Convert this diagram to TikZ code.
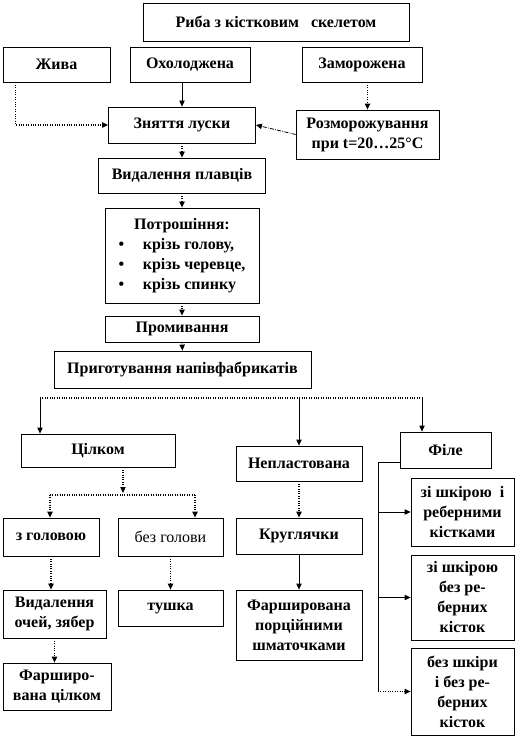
\documentclass[tikz,border=0pt]{standalone}
\usepackage{fontspec}
\setmainfont{Liberation Serif}
\usetikzlibrary{arrows.meta,positioning,calc}

\begin{document}
\begin{tikzpicture}[x=0.75pt,y=-0.75pt,>={Triangle[length=4.5pt,width=4pt]},
  box/.style={draw,line width=0.6pt,align=center,inner sep=1pt,
    font=\fontsize{12}{15}\selectfont\bfseries},
  link/.style={line width=0.6pt},
  dlink/.style={line width=0.8pt,densely dotted}]
  \useasboundingbox (0,0) rectangle (521,737);

  \node[box,minimum width=199.5pt,minimum height=28.5pt] (fish) at (276,22) {Риба з кістковим~~~скелетом};
  \node[box,minimum width=80.25pt,minimum height=26.25pt] (live) at (56.5,64.5) {Жива};
  \node[box,minimum width=90pt,minimum height=26.25pt] (chilled) at (190,64.5) {Охолоджена};
  \node[box,minimum width=90pt,minimum height=26.25pt] (frozen) at (362,64.5) {Заморожена};
  \node[box,minimum width=110.25pt,minimum height=27pt] (scale) at (182,125) {Зняття луски};
  \node[box,minimum width=107.25pt,minimum height=36.75pt] (thaw) at (367.5,134.5) {Розморожування\\при t=20…25°C};
  \node[box,minimum width=125.25pt,minimum height=26.25pt] (fins) at (182,175.5) {Видалення плавців};
  \node[box,minimum width=115.5pt,minimum height=71.25pt] (gut) at (182,255.5)
    {\begin{tabular}{@{}l@{\hspace{14pt}}l@{}}
      \multicolumn{2}{c}{Потрошіння:}\\
      • & крізь голову,\\
      • & крізь черевце,\\
      • & крізь спинку
    \end{tabular}};
  \node[box,minimum width=115.5pt,minimum height=19.5pt] (wash) at (182,329) {Промивання};
  \node[box,minimum width=192.75pt,minimum height=27.75pt] (prep) at (182.5,369.5) {Приготування напівфабрикатів};

  \node[box,minimum width=115.5pt,minimum height=24.75pt] (whole) at (98,450.5) {Цілком};
  \node[box,minimum width=94.5pt,minimum height=26.25pt] (unsliced) at (299,463.5) {Непластована};
  \node[box,minimum width=68.25pt,minimum height=27pt] (fillet) at (445.5,450) {Філе};

  \node[box,minimum width=72pt,minimum height=28.5pt] (withhead) at (51,537) {з головою};
  \node[box,minimum width=78.75pt,minimum height=28.5pt,font=\fontsize{12}{15}\selectfont] (headless) at (170.5,537) {без голови};
  \node[box,minimum width=77.25pt,minimum height=36pt] (eyes) at (54.5,614) {Видалення\\очей, зябер};
  \node[box,minimum width=78.75pt,minimum height=27pt] (carcass) at (170.5,608) {тушка};
  \node[box,minimum width=81pt,minimum height=35.25pt] (stuffed) at (57,686.5) {Фарширо-\\вана цілком};

  \node[box,minimum width=94.5pt,minimum height=27pt] (rounds) at (299,536) {Круглячки};
  \node[box,minimum width=94.5pt,minimum height=52.5pt] (pieces) at (299,625) {Фарширована\\порційними\\шматочками};

  \node[box,minimum width=77.25pt,minimum height=51pt] (filA) at (462.5,512) {зі шкірою~ і\\реберними\\кістками};
  \node[box,minimum width=77.25pt,minimum height=63.75pt] (filB) at (462.5,597.5) {зі шкірою\\без ре-\\берних\\кісток};
  \node[box,minimum width=77.25pt,minimum height=65.25pt] (filC) at (462.5,691.5) {без шкіри\\і без ре-\\берних\\кісток};

  % upper column
  \draw[dlink,->] ($(live.south west)+(13,0)$) |- (scale.west);
  \draw[link,->] (chilled.south -| scale.north) -- (scale.north);
  \draw[dlink,->] (frozen.south -| thaw.north) -- (thaw.north);
  \draw[link,densely dashdotted,->] (thaw.west) -- (scale.east);
  \draw[dlink,->] (scale.south) -- (fins.north);
  \draw[dlink,->] (fins.south) -- (gut.north);
  \draw[dlink,->] (gut.south) -- (wash.north);
  \draw[dlink,->] (wash.south) -- (prep.north);

  % three kinds
  \coordinate (dl) at (40,398);
  \coordinate (dr) at (422,398);
  \draw[dlink] (dl) -- (dr);
  \draw[link,->] (dl) -- (dl |- whole.north);
  \draw[link,->] (unsliced.north |- dl) -- (unsliced.north);
  \draw[link,->] (dr) -- (dr |- fillet.north);

  % whole fish
  \coordinate (wm) at (123,493);
  \coordinate (wl) at (50,495);
  \coordinate (wr) at (195,495);
  \draw[dlink,->] (whole.south -| wm) -- (wm);
  \draw[dlink] (wl) -- (wr);
  \draw[dlink,->] (wl) -- (wl |- withhead.north);
  \draw[dlink,->] (wr) -- (wr |- headless.north);
  \draw[dlink,->] (withhead.south) -- (withhead.south |- eyes.north);
  \draw[dlink,->] (headless.south) -- (carcass.north);
  \draw[dlink,->] (eyes.south) -- (eyes.south |- stuffed.north);

  % unsliced
  \draw[dlink,->] (unsliced.south) -- (rounds.north);
  \draw[link,->] (rounds.south) -- (pieces.north);

  % fillet
  \coordinate (ft) at (378,462);
  \draw[link] (ft -| fillet.west) -- (ft) -- (ft |- filC.west);
  \draw[link,->] (ft |- filA.west) -- (filA.west);
  \draw[link,->] (ft |- filB.west) -- (filB.west);
  \draw[dlink,->] (ft |- filC.west) -- (filC.west);
\end{tikzpicture}
\end{document}
